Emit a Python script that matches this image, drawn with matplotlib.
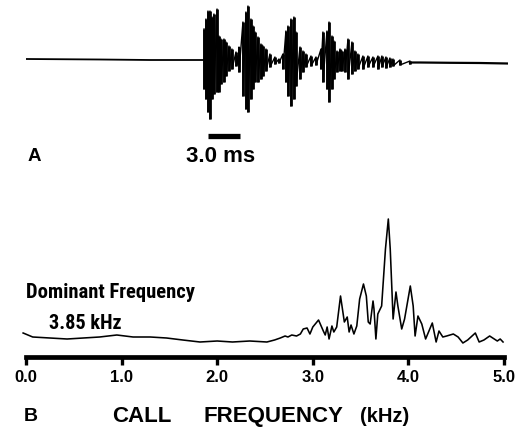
import matplotlib
matplotlib.use("Agg")
import matplotlib.pyplot as plt
from matplotlib import font_manager as fm

# ---------------- Panel A: oscillogram (time in ms, relative amplitude) ----------------
pre_t = [0.00, 6.94, 11.63, 16.69]
pre_a = [2.0, 1.5, 1.0, 1.0]

burst_t = [16.69, 16.87, 17.06, 17.25, 17.44, 17.62, 17.91, 18.09, 18.28, 18.56,
           18.75, 19.03, 19.31, 19.69, 19.87, 19.97, 20.34, 20.62, 20.81, 21.09,
           21.28, 21.47, 21.75, 22.03, 22.22, 22.50, 22.87, 23.34, 23.72, 24.09,
           24.37, 24.56, 24.84, 25.12, 25.31, 25.69, 25.97, 26.25, 26.72, 27.19,
           27.66, 27.84, 28.22, 28.41, 28.69, 28.87, 29.16, 29.44, 29.62, 29.91,
           30.19, 30.56, 30.84, 31.12, 31.59, 32.06, 32.53, 33.00, 33.37, 33.75,
           34.12, 34.41, 35.06, 36.00]
burst_top = [32, 42, 50, 50, 44, 47, 52, 25, 22, 22,
             19, 15, 12, 9, 5, 14, 39, 49, 55, 42,
             35, 29, 24, 17, 15, 12, 7, 4, 2, 7,
             30, 35, 42, 44, 29, 14, 10, 7, 5, 4,
             12, 29, 30, 39, 25, 20, 10, 12, 10, 12,
             22, 19, 10, 7, 5, 5, 4, 5, 5, 4,
             3, 2, 1, 0]
burst_bot = [-28, -38, -51, -58, -38, -33, -31, -31, -23, -21,
             -15, -10, -8, -5, -3, -11, -35, -48, -51, -38,
             -28, -21, -21, -18, -15, -10, -6, -3, -2, -8,
             -21, -35, -45, -38, -25, -18, -11, -6, -5, -4,
             -8, -21, -28, -41, -28, -18, -11, -10, -10, -11,
             -18, -13, -10, -8, -8, -6, -6, -8, -6, -7,
             -6, -5, -4, -3]

tail_t = [36.00, 36.94, 39.75, 42.56, 45.19]
tail_a = [-1.5, -1.5, -1.8, -2.0, -2.5]

scale_bar_ms = 3.0
scale_bar_start = 17.06
scale_label = "3.0 ms"

# ---------------- Panel B: spectrum (kHz, relative level) ----------------
freq_khz = [-0.03, 0.07, 0.25, 0.43, 0.60, 0.77, 0.95, 1.12, 1.30, 1.47,
            1.64, 1.82, 2.00, 2.16, 2.34, 2.52, 2.60, 2.66, 2.71, 2.74,
            2.78, 2.83, 2.87, 2.90, 2.94, 2.97, 3.00, 3.06, 3.11, 3.13,
            3.15, 3.17, 3.20, 3.22, 3.25, 3.29, 3.33, 3.36, 3.38, 3.40,
            3.43, 3.46, 3.49, 3.53, 3.56, 3.58, 3.60, 3.63, 3.64, 3.66,
            3.68, 3.72, 3.76, 3.79, 3.81, 3.84, 3.87, 3.89, 3.93, 3.96,
            4.02, 4.05, 4.07, 4.10, 4.14, 4.18, 4.25, 4.29, 4.32, 4.36,
            4.40, 4.47, 4.52, 4.57, 4.62, 4.70, 4.74, 4.79, 4.85, 4.93,
            4.96, 4.99]
level = [22, 18, 17, 16, 17, 18, 20, 18, 18, 17,
         15, 13, 14, 13, 14, 13, 15, 17, 19, 18,
         20, 19, 21, 26, 27, 21, 28, 35, 24, 20,
         28, 16, 29, 23, 28, 59, 33, 38, 23, 30,
         21, 29, 56, 71, 59, 33, 31, 54, 46, 16,
         41, 49, 106, 136, 106, 36, 63, 49, 26, 36,
         69, 49, 19, 39, 31, 16, 32, 13, 24, 18,
         19, 21, 18, 12, 15, 22, 13, 15, 19, 14,
         16, 13]

xticks = [0.0, 1.0, 2.0, 3.0, 4.0, 5.0]
xtick_labels = ["0.0", "1.0", "2.0", "3.0", "4.0", "5.0"]
xlabel_words = ["CALL", "FREQUENCY", "(kHz)"]
annot_line1 = "Dominant Frequency"
annot_line2 = "3.85 kHz"

W, H = 523, 435
fig = plt.figure(figsize=(W / 100, H / 100), dpi=100)
fig.patch.set_facecolor("white")
SANS = ["Liberation Sans", "DejaVu Sans"]
BOLD = dict(family=SANS, weight="bold")


def fx(px):
    return px / W


def fy(py):
    return 1 - py / H


# pick the narrowest condensed bold face that is installed
def pick_condensed():
    for fam in ["Liberation Sans Narrow", "Roboto Condensed", "Open Sans Condensed",
                "Noto Sans Condensed", "DejaVu Sans Condensed"]:
        try:
            fm.findfont(fm.FontProperties(family=fam, weight="bold"),
                        fallback_to_default=False)
            return dict(family=[fam, "DejaVu Sans"], weight="bold")
        except Exception:
            pass
    for stretch in ["extra-condensed", "condensed", "semi-condensed"]:
        for fam in ["Noto Sans", "Open Sans", "Roboto", "DejaVu Sans"]:
            try:
                p = fm.findfont(fm.FontProperties(family=fam, weight="bold",
                                                  stretch=stretch),
                                fallback_to_default=False)
            except Exception:
                continue
            if "ondensed" in p and "Bold" in p:
                return dict(fontproperties=fm.FontProperties(fname=p))
    return None


cond = pick_condensed()

# ---- Panel A axes
axA = fig.add_axes([fx(26), fy(165), (508 - 26) / W, 160 / H])
axA.set_xlim(0, 45.19)
axA.set_ylim(-103, 57)
axA.axis("off")

zz_t, zz_a = [], []
for t, top, bot in zip(burst_t, burst_top, burst_bot):
    zz_t += [t, t]
    zz_a += [top, bot]
axA.plot(pre_t, pre_a, color="black", lw=1.3, solid_capstyle="butt")
axA.vlines(burst_t, burst_bot, burst_top, color="black", lw=2.0)
axA.plot(zz_t, zz_a, color="black", lw=1.0)
axA.plot(tail_t, tail_a, color="black", lw=1.6)
axA.plot([scale_bar_start, scale_bar_start + scale_bar_ms], [-75, -75],
         color="black", lw=3.8, solid_capstyle="butt")
axA.text(18.28, -95, scale_label, ha="center", va="center", fontsize=16, **BOLD)
fig.text(fx(34), fy(157), "A", ha="center", va="center", fontsize=13.5, **BOLD)

# ---- Panel B axes
axB = fig.add_axes([fx(26), fy(358), (504 - 26) / W, 158 / H])
axB.set_xlim(0, 5)
axB.set_ylim(-2, 156)
axB.plot(freq_khz, level, color="black", lw=1.15, clip_on=False)
for s in ["top", "right", "left"]:
    axB.spines[s].set_visible(False)
axB.spines["bottom"].set_linewidth(3.4)
axB.spines["bottom"].set_capstyle("projecting")
axB.set_yticks([])
axB.set_xticks(xticks)
axB.set_xticklabels(xtick_labels)
axB.tick_params(axis="x", direction="out", length=5.5, width=2.4, pad=3,
                labelsize=12)
for lab in axB.get_xticklabels():
    lab.set_fontweight("bold")
    lab.set_family(SANS)
axB.patch.set_alpha(0)

# ---- annotation
renderer = fig.canvas.get_renderer()
props = cond if cond is not None else BOLD
t1 = fig.text(fx(26), fy(298), annot_line1, ha="left", va="baseline", fontsize=15, **props)
w1 = t1.get_window_extent(renderer).width
size = min(15, 15 * 170 / w1)
t1.set_fontsize(size)
fig.text(fx(49), fy(329), annot_line2, ha="left", va="baseline", fontsize=size * 0.98, **props)

# ---- bottom labels
fig.text(fx(31), fy(417), "B", ha="center", va="center", fontsize=14, **BOLD)
for word, cx, fs in zip(xlabel_words, [141.5, 273.5, 385], [16, 16, 14.5]):
    fig.text(fx(cx), fy(417), word, ha="center", va="center", fontsize=fs, **BOLD)

fig.savefig("out.png", dpi=100, facecolor="white")
